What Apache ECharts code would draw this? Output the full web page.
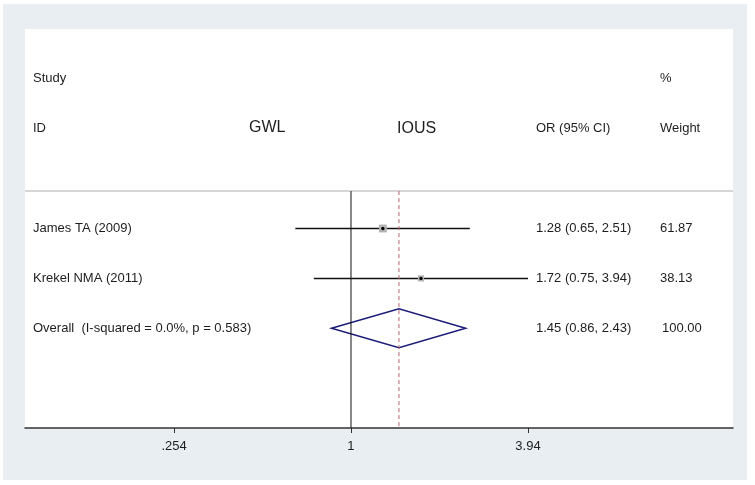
<!DOCTYPE html>
<html>
<head>
<meta charset="utf-8">
<script src="https://cdn.jsdelivr.net/npm/echarts@6/dist/echarts.min.js"></script>
<style>
html, body { margin: 0; padding: 0; background: #fff; }
#bg { position: absolute; left: 3px; top: 4px; width: 744px; height: 476px; background: #e8eef1; }
#panel { position: absolute; left: 25px; top: 29px; width: 708px; height: 399px; background: #fff; }
#main { position: absolute; left: 3px; top: 4px; width: 744px; height: 476px; }
</style>
</head>
<body>
<div id="bg"></div>
<div id="panel"></div>
<div id="main"></div>
<script>
// study data (odds ratios)
var studies = ["James TA (2009)", "Krekel NMA (2011)"];
var studyOR = [1.28, 1.72];
var studyLow = [0.65, 0.75];
var studyHigh = [2.51, 3.94];
var studyWeight = [61.87, 38.13];

var overallLabel = "Overall  (I-squared = 0.0%, p = 0.583)";
var overallOR = [1.45];
var overallLow = [0.86];
var overallHigh = [2.43];
var overallWeight = [100.0];

var tickValues = [0.254, 1, 3.94];

var font = "Liberation Sans, Arial, sans-serif";
var textColor = "#1e1e1e";
var colLabel = 30, colOR = 533, colWeight = 657;

function fmt(v) { return v.toFixed(2); }
function ciText(o, l, h) { return fmt(o) + " (" + fmt(l) + ", " + fmt(h) + ")"; }

var myChart = echarts.init(document.getElementById("main"), null, { renderer: "canvas" });

// rows on the y axis: 1,2 header, 3.25 separator, 4.. studies
var rowData = studies.map(function (s, i) {
  return [Math.log(studyLow[i]), Math.log(studyHigh[i]), Math.log(studyOR[i]), 4 + i, studyWeight[i],
    s, ciText(studyOR[i], studyLow[i], studyHigh[i]), fmt(studyWeight[i])];
});
var overallRow = 4 + studies.length;
var diamondData = [[Math.log(overallLow[0]), Math.log(overallHigh[0]), Math.log(overallOR[0]), overallRow,
  overallLabel, ciText(overallOR[0], overallLow[0], overallHigh[0]), fmt(overallWeight[0])]];
var headerData = [[1, "Study", "", "%"], [2, "ID", "OR (95% CI)", "Weight"]];

function txt(x, y, s, size) {
  return {
    type: "text",
    style: { text: s, x: x, y: y, fill: textColor, font: (size || 13) + "px " + font, align: "left", verticalAlign: "middle" }
  };
}

var xMin = -2.525, xMax = 2.959;

var option = {
  animation: false,
  backgroundColor: "transparent",
  grid: { left: 22, right: 14, top: 25, bottom: 52, show: false },
  xAxis: {
    type: "value",
    position: "bottom",
    min: xMin,
    max: xMax,
    splitLine: { show: false },
    axisLine: { show: true, onZero: false, lineStyle: { color: "#333", width: 1.5 } },
    axisTick: { show: true, length: 5, lineStyle: { color: "#333", width: 1 }, customValues: tickValues.map(Math.log) },
    axisLabel: {
      customValues: tickValues.map(Math.log),
      margin: 12,
      color: textColor,
      fontSize: 13,
      fontFamily: font,
      formatter: function (v) {
        for (var i = 0; i < tickValues.length; i++) {
          if (Math.abs(Math.log(tickValues[i]) - v) < 1e-6) return String(tickValues[i]).replace(/^0\./, ".");
        }
        return "";
      }
    }
  },
  yAxis: { type: "value", min: 0, max: 8, inverse: true, show: false },
  graphic: [
    { type: "text", left: 246, top: 116, style: { text: "GWL", fill: textColor, font: "16px " + font } },
    { type: "text", left: 394, top: 117, style: { text: "IOUS", fill: textColor, font: "16px " + font } }
  ],
  series: [
    {
      // header separator
      type: "line",
      data: [[xMin, 3.25], [xMax, 3.25]],
      symbol: "none",
      lineStyle: { color: "#c8c8c8", width: 1.5 },
      silent: true
    },
    {
      // null line at OR = 1
      type: "line",
      data: [[0, 3.25], [0, 8]],
      symbol: "none",
      lineStyle: { color: "#111", width: 1 },
      silent: true
    },
    {
      // overall effect line
      type: "line",
      data: [[Math.log(overallOR[0]), 3.25], [Math.log(overallOR[0]), 8]],
      symbol: "none",
      lineStyle: { color: "#b4646e", width: 1, type: [4, 3] },
      silent: true
    },
    {
      type: "custom",
      data: headerData,
      renderItem: function (params, api) {
        var y = api.coord([0, api.value(0)])[1];
        var d = headerData[params.dataIndex];
        return { type: "group", children: [txt(colLabel, y, d[1]), txt(colOR, y, d[2]), txt(colWeight, y, d[3])] };
      }
    },
    {
      type: "custom",
      data: rowData,
      renderItem: function (params, api) {
        var d = rowData[params.dataIndex];
        var p1 = api.coord([d[0], d[3]]);
        var p2 = api.coord([d[1], d[3]]);
        var pc = api.coord([d[2], d[3]]);
        var box = Math.sqrt(d[4]) * 1.0;
        return {
          type: "group",
          children: [
            { type: "line", shape: { x1: p1[0], y1: p1[1], x2: p2[0], y2: p2[1] }, style: { stroke: "#111", lineWidth: 1.5 } },
            { type: "rect", shape: { x: pc[0] - box / 2, y: pc[1] - box / 2, width: box, height: box }, style: { fill: "#b4b4b4" } },
            { type: "circle", shape: { cx: pc[0], cy: pc[1], r: 1.7 }, style: { fill: "#000" } },
            txt(colLabel, pc[1], d[5]),
            txt(colOR, pc[1], d[6]),
            txt(colWeight, pc[1], d[7])
          ]
        };
      }
    },
    {
      type: "custom",
      data: diamondData,
      renderItem: function (params, api) {
        var d = diamondData[params.dataIndex];
        var pl = api.coord([d[0], d[3]]);
        var pr = api.coord([d[1], d[3]]);
        var pt = api.coord([d[2], d[3] - 0.39]);
        var pb = api.coord([d[2], d[3] + 0.39]);
        return {
          type: "group",
          children: [
            { type: "polygon", shape: { points: [pl, pt, pr, pb] }, style: { fill: "none", stroke: "#1c1c78", lineWidth: 1.5 } },
            txt(colLabel, pl[1], d[4]),
            txt(colOR, pl[1], d[5]),
            txt(colWeight + 2, pl[1], d[6])
          ]
        };
      }
    }
  ]
};

myChart.setOption(option);
</script>
</body>
</html>
